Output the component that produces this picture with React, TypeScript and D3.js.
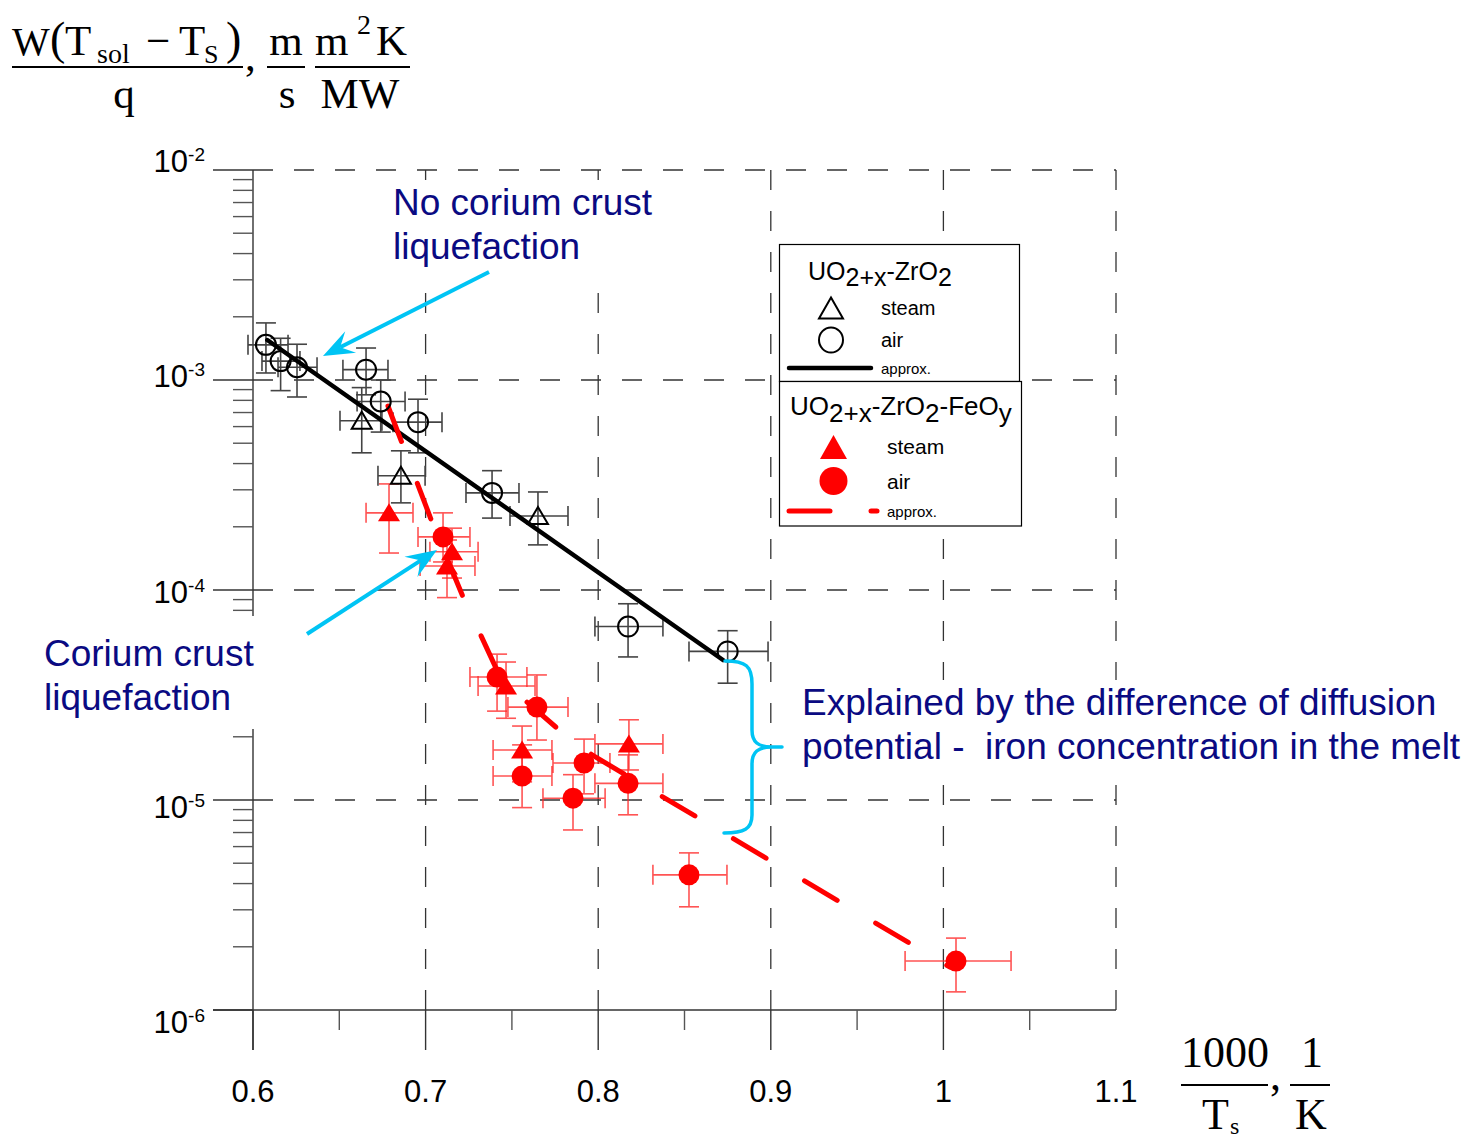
import React from 'react';
import * as d3 from 'd3';

const W = 1470;
const H = 1142;

// axis ticks
const xMajor = [0.6, 0.7, 0.8, 0.9, 1.0, 1.1];
const xMajorLabels = ['0.6', '0.7', '0.8', '0.9', '1', '1.1'];
const xMinor = [0.65, 0.75, 0.85, 0.95, 1.05];
const yDecades = [1e-2, 1e-3, 1e-4, 1e-5, 1e-6];
const yDecadeExp = ['-2', '-3', '-4', '-5', '-6'];

// rows: [x, y, xLo, xHi, yLo, yHi]
// UO2+x-ZrO2 in air (open circles)
const zrAir = [
  [0.6075, 1.47e-3, 0.5971, 0.6203, 1.08e-3, 1.87e-3],
  [0.6160, 1.23e-3, 0.6052, 0.6272, 8.9e-4, 1.58e-3],
  [0.6255, 1.15e-3, 0.6145, 0.6371, 8.3e-4, 1.48e-3],
  [0.6655, 1.12e-3, 0.6521, 0.6782, 8.5e-4, 1.42e-3],
  [0.6740, 7.9e-4, 0.6603, 0.6881, 5.65e-4, 1.0e-3],
  [0.6956, 6.3e-4, 0.6811, 0.7095, 4.5e-4, 8.1e-4],
  [0.7385, 2.9e-4, 0.7234, 0.7541, 2.2e-4, 3.7e-4],
  [0.8173, 6.7e-5, 0.7981, 0.8375, 4.8e-5, 8.6e-5],
  [0.8750, 5.1e-5, 0.8526, 0.8984, 3.6e-5, 6.4e-5],
];
// UO2+x-ZrO2 in steam (open triangles)
const zrSteam = [
  [0.6630, 6.4e-4, 0.6504, 0.6747, 4.5e-4, 9.2e-4],
  [0.6857, 3.5e-4, 0.6724, 0.6997, 2.6e-4, 4.6e-4],
  [0.7651, 2.25e-4, 0.7489, 0.7825, 1.64e-4, 2.93e-4],
];
// UO2+x-ZrO2-FeOy in air (red circles)
const feAir = [
  [0.7101, 1.79e-4, 0.6956, 0.7257, 1.36e-4, 2.33e-4],
  [0.7414, 3.85e-5, 0.7257, 0.7587, 2.65e-5, 4.95e-5],
  [0.7645, 2.77e-5, 0.7477, 0.7825, 1.93e-5, 3.94e-5],
  [0.7559, 1.30e-5, 0.7391, 0.7732, 9.2e-6, 1.83e-5],
  [0.7854, 1.02e-5, 0.7680, 0.8040, 7.2e-6, 1.32e-5],
  [0.7918, 1.50e-5, 0.7738, 0.8068, 1.07e-5, 1.95e-5],
  [0.8173, 1.20e-5, 0.7981, 0.8375, 8.5e-6, 1.64e-5],
  [0.8526, 4.4e-6, 0.8317, 0.8746, 3.1e-6, 5.6e-6],
  [1.0073, 1.71e-6, 0.9778, 1.0392, 1.22e-6, 2.2e-6],
];
// UO2+x-ZrO2-FeOy in steam (red triangles)
const feSteam = [
  [0.6788, 2.33e-4, 0.6655, 0.6927, 1.5e-4, 3.2e-4],
  [0.7153, 1.52e-4, 0.7025, 0.7304, 1.14e-4, 1.97e-4],
  [0.7124, 1.30e-4, 0.6968, 0.7286, 9.2e-5, 1.73e-4],
  [0.7466, 3.49e-5, 0.7304, 0.7634, 2.45e-5, 4.54e-5],
  [0.7559, 1.73e-5, 0.7391, 0.7732, 1.22e-5, 2.25e-5],
  [0.8178, 1.85e-5, 0.7981, 0.8375, 1.39e-5, 2.41e-5],
];

// approximation lines
const zrApprox = [[0.6083, 1.55e-3], [0.8723, 4.64e-5]];
const feApprox = [
  [0.6782, 7.52e-4], [0.7037, 2.11e-4], [0.7217, 9.26e-5], [0.7448, 3.61e-5],
  [0.7587, 2.93e-5], [0.7767, 2.18e-5], [0.7964, 1.64e-5], [0.8144, 1.34e-5],
  [1.0038, 1.60e-6],
];

const SANS = '"Liberation Sans", Arial, sans-serif';
const SERIF = '"Liberation Serif", "Times New Roman", serif';
const NAVY = '#0a0a82';
const CYAN = '#00c4f4';
const RED = '#ff0000';

const xS = d3.scaleLinear().domain([0.6, 1.1]).range([253, 1116]);
const yS = d3.scaleLog().domain([1e-6, 1e-2]).range([1010, 170]);

const line = d3.line().x((d) => xS(d[0])).y((d) => yS(d[1]));

function ErrBar({ row, color, opacity }) {
  const [x, y, xl, xh, yl, yh] = row;
  const cx = xS(x), cy = yS(y);
  const x0 = xS(xl), x1 = xS(xh), y0 = yS(yl), y1 = yS(yh);
  const c = 10;
  return (
    <g stroke={color} strokeWidth={1.6} opacity={opacity}>
      <line x1={x0} x2={x1} y1={cy} y2={cy} />
      <line x1={x0} x2={x0} y1={cy - c} y2={cy + c} />
      <line x1={x1} x2={x1} y1={cy - c} y2={cy + c} />
      <line x1={cx} x2={cx} y1={y0} y2={y1} />
      <line x1={cx - c} x2={cx + c} y1={y0} y2={y0} />
      <line x1={cx - c} x2={cx + c} y1={y1} y2={y1} />
    </g>
  );
}

function tri(cx, cy, hw, up, down) {
  return `M${cx},${cy - up}L${cx + hw},${cy + down}L${cx - hw},${cy + down}Z`;
}

function Arrow({ from, to }) {
  const [sx, sy] = from;
  const [tx, ty] = to;
  const len = Math.hypot(tx - sx, ty - sy);
  const ux = (tx - sx) / len, uy = (ty - sy) / len;
  const nx = -uy, ny = ux;
  const L = 31, w = 12;
  const bx = tx - ux * L, by = ty - uy * L;
  const mx = tx - ux * L * 0.62, my = ty - uy * L * 0.62;
  const head = `M${tx},${ty}L${bx + nx * w},${by + ny * w}L${mx},${my}L${bx - nx * w},${by - ny * w}Z`;
  return (
    <g>
      <line x1={sx} y1={sy} x2={mx} y2={my} stroke={CYAN} strokeWidth={4} />
      <path d={head} fill={CYAN} />
    </g>
  );
}

// annotation geometry (pixels)
const arrowTop = { from: [489, 272], to: [323, 356] };
const arrowLow = { from: [307, 634], to: [437, 550] };
const bracePath =
  'M725,661 C746,661 752,666 752,684 L752,730 C752,742 758,747 772,747 L782,747 ' +
  'M772,747 C758,747 752,752 752,764 L752,815 C752,829 744,833 724,833';

export default function App() {
  const minorY = [];
  [-6, -5, -4, -3].forEach((e) => {
    for (let k = 2; k <= 9; k++) minorY.push(k * Math.pow(10, e));
  });

  return (
    <svg
      width={W}
      height={H}
      style={{ position: 'absolute', left: 0, top: 0, background: '#fff' }}
      fontFamily={SANS}
    >
      <rect width={W} height={H} fill="#fff" />

      {/* dashed grid */}
      <g stroke="#333" strokeWidth={1.3} strokeDasharray="20 21" fill="none">
        {yDecades.slice(0, 4).map((v) => (
          <line key={'h' + v} x1={253} x2={1116} y1={yS(v)} y2={yS(v)} />
        ))}
        {xMajor.slice(1).map((v) => (
          <line key={'v' + v} x1={xS(v)} x2={xS(v)} y1={170} y2={1010} />
        ))}
      </g>

      {/* axes */}
      <g stroke="#333" strokeWidth={1.4}>
        <line x1={213} x2={1116} y1={1010} y2={1010} />
        <line x1={253} x2={253} y1={170} y2={1050} />
        {yDecades.map((v) => (
          <line key={'yt' + v} x1={213} x2={253} y1={yS(v)} y2={yS(v)} />
        ))}
        {xMajor.slice(0, 5).map((v) => (
          <line key={'xt' + v} x1={xS(v)} x2={xS(v)} y1={1010} y2={1050} />
        ))}
      </g>
      <g stroke="#555" strokeWidth={1.4}>
        {minorY.map((v) => (
          <line key={'ym' + v} x1={233} x2={253} y1={yS(v)} y2={yS(v)} />
        ))}
        {xMinor.map((v) => (
          <line key={'xm' + v} x1={xS(v)} x2={xS(v)} y1={1010} y2={1030} />
        ))}
      </g>

      {/* tick labels (decade labels sit on a slightly wider pitch than the lines) */}
      <g fontSize={31} fill="#000">
        {yDecades.map((v, i) => (
          <text key={'yl' + v} x={205} y={172 + i * 215.25} textAnchor="end">
            10<tspan fontSize={19} dy={-11}>{yDecadeExp[i]}</tspan>
          </text>
        ))}
        {xMajor.map((v, i) => (
          <text key={'xl' + v} x={xS(v)} y={1102} textAnchor="middle">
            {xMajorLabels[i]}
          </text>
        ))}
      </g>

      {/* white backgrounds behind annotation texts */}
      <rect x={385} y={180} width={275} height={97} fill="#fff" />
      <rect x={35} y={616} width={228} height={113} fill="#fff" />
      <rect x={795} y={680} width={670} height={90} fill="#fff" />

      {/* error bars */}
      {zrAir.map((r, i) => <ErrBar key={'ea' + i} row={r} color="#444" opacity={1} />)}
      {zrSteam.map((r, i) => <ErrBar key={'es' + i} row={r} color="#444" opacity={1} />)}
      {feAir.map((r, i) => <ErrBar key={'fa' + i} row={r} color="#ff2a2a" opacity={0.8} />)}
      {feSteam.map((r, i) => <ErrBar key={'fs' + i} row={r} color="#ff2a2a" opacity={0.8} />)}

      {/* approximations */}
      <path d={line(zrApprox)} stroke="#000" strokeWidth={4.5} fill="none" strokeLinecap="round" />
      <path
        d={line(feApprox)}
        stroke={RED}
        strokeWidth={5}
        fill="none"
        strokeLinecap="round"
        strokeLinejoin="round"
        strokeDasharray="38 44.7"
      />

      {/* markers */}
      {zrAir.map((r, i) => (
        <circle key={'ca' + i} cx={xS(r[0])} cy={yS(r[1])} r={10} fill="none" stroke="#000" strokeWidth={2} />
      ))}
      {zrSteam.map((r, i) => (
        <path key={'ts' + i} d={tri(xS(r[0]), yS(r[1]), 10, 9, 8)} fill="none" stroke="#000" strokeWidth={2} />
      ))}
      {feAir.map((r, i) => (
        <circle key={'ra' + i} cx={xS(r[0])} cy={yS(r[1])} r={10.5} fill={RED} />
      ))}
      {feSteam.map((r, i) => (
        <path key={'rs' + i} d={tri(xS(r[0]), yS(r[1]), 11, 9.5, 8.5)} fill={RED} />
      ))}

      {/* legend */}
      <rect x={779.5} y={244.5} width={240} height={137} fill="#fff" stroke="#000" strokeWidth={1.2} />
      <text x={808} y={280} fontSize={25}>
        UO<tspan dy={6}>2+x</tspan><tspan dy={-6}>-ZrO</tspan><tspan dy={6}>2</tspan>
      </text>
      <path d="M831,297.5L843,318.5L819,318.5Z" fill="none" stroke="#000" strokeWidth={2} />
      <text x={881} y={315} fontSize={20}>steam</text>
      <ellipse cx={831} cy={340} rx={12} ry={12.5} fill="none" stroke="#000" strokeWidth={2} />
      <text x={881} y={347} fontSize={20}>air</text>
      <line x1={789} x2={871} y1={368} y2={368} stroke="#000" strokeWidth={4.5} strokeLinecap="round" />
      <text x={881} y={374} fontSize={15}>approx.</text>

      <rect x={779.5} y={381.5} width={242} height={144.5} fill="#fff" stroke="#000" strokeWidth={1.2} />
      <text x={790} y={415} fontSize={26}>
        UO<tspan dy={7}>2+x</tspan><tspan dy={-7}>-ZrO</tspan><tspan dy={7}>2</tspan>
        <tspan dy={-7}>-FeO</tspan><tspan dy={7}>y</tspan>
      </text>
      <path d="M833.5,435L847,459L820,459Z" fill={RED} />
      <text x={887} y={454} fontSize={21}>steam</text>
      <circle cx={833.5} cy={481} r={14} fill={RED} />
      <text x={887} y={489} fontSize={21}>air</text>
      <line x1={789} x2={830} y1={511} y2={511} stroke={RED} strokeWidth={5} strokeLinecap="round" />
      <line x1={871} x2={877} y1={511} y2={511} stroke={RED} strokeWidth={5} strokeLinecap="round" />
      <text x={887} y={517} fontSize={15}>approx.</text>

      {/* annotations */}
      <Arrow {...arrowTop} />
      <Arrow {...arrowLow} />
      <path d={bracePath} stroke={CYAN} strokeWidth={3.5} fill="none" strokeLinecap="round" />

      <g fontSize={37} fill={NAVY}>
        <text x={393} y={215}>No corium crust</text>
        <text x={393} y={259}>liquefaction</text>
        <text x={44} y={666}>Corium crust</text>
        <text x={44} y={710}>liquefaction</text>
        <text x={802} y={715}>Explained by the difference of diffusion</text>
        <text x={802} y={759} style={{ whiteSpace: 'pre' }}>potential -  iron concentration in the melt</text>
      </g>

      {/* y axis title */}
      <g fontFamily={SERIF} fill="#000" fontSize={43}>
        <text x={12} y={55} fontSize={40}>W</text>
        <text x={50} y={54} fontSize={46}>(</text>
        <text x={65} y={55}>T</text>
        <text x={97} y={63} fontSize={28}>sol</text>
        <text x={146} y={55}>−</text>
        <text x={179} y={55}>T</text>
        <text x={204} y={63} fontSize={26}>S</text>
        <text x={226} y={54} fontSize={46}>)</text>
        <line x1={12} x2={243} y1={67} y2={67} stroke="#000" strokeWidth={2} />
        <text x={124} y={108} textAnchor="middle">q</text>
        <text x={245} y={70}>,</text>
        <text x={286} y={55} textAnchor="middle">m</text>
        <line x1={267} x2={305} y1={67} y2={67} stroke="#000" strokeWidth={2} />
        <text x={287} y={108} textAnchor="middle">s</text>
        <text x={315} y={55}>m</text>
        <text x={357} y={34} fontSize={28}>2</text>
        <text x={376} y={55}>K</text>
        <line x1={315} x2={410} y1={67} y2={67} stroke="#000" strokeWidth={2} />
        <text x={360} y={108} textAnchor="middle">MW</text>
      </g>

      {/* x axis title */}
      <g fontFamily={SERIF} fill="#000" fontSize={44}>
        <text x={1225} y={1067} textAnchor="middle">1000</text>
        <line x1={1181} x2={1268} y1={1085} y2={1085} stroke="#000" strokeWidth={2} />
        <text x={1202} y={1129}>T</text>
        <text x={1230} y={1134} fontSize={24}>s</text>
        <text x={1270} y={1090}>,</text>
        <text x={1312} y={1067} textAnchor="middle">1</text>
        <line x1={1290} x2={1330} y1={1085} y2={1085} stroke="#000" strokeWidth={2} />
        <text x={1311} y={1129} textAnchor="middle">K</text>
      </g>
    </svg>
  );
}
